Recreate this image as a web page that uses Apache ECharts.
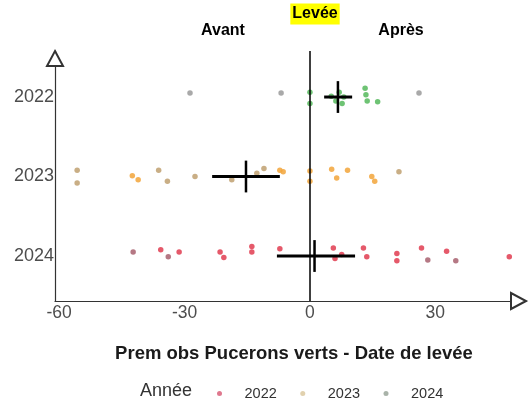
<!DOCTYPE html>
<html>
<head>
<meta charset="utf-8">
<script src="https://cdn.jsdelivr.net/npm/echarts@6/dist/echarts.min.js"></script>
<style>
html,body{margin:0;padding:0;background:#fff;}
#chart{width:530px;height:404px;}
</style>
</head>
<body>
<div id="chart"></div>
<script>
// ---- Data ----
// Row positions on the y axis (value = row index from bottom)
const rowLabels = ['2024', '2023', '2022'];      // y = 0, 1, 2
const legendNames = ['2022', '2023', '2024'];

// Legend "2022" (red) points: drawn in the bottom row (y = 0)
const redX      = [-35.7, -31.3, -21.5, -20.6, -13.9, -13.9, -7.2, 5.6, 6.0, 7.6, 12.8, 13.6, 20.8, 20.8, 26.7, 32.7, 47.7];
const redJ      = [0.08, 0.05, 0.05, -0.02, 0.12, 0.05, 0.09, 0.10, -0.03, 0.02, 0.10, -0.01, 0.03, -0.06, 0.10, 0.06, -0.01];
const redMutedX = [-42.3, -33.9, 28.2, 34.9];
const redMutedJ = [0.05, -0.01, -0.05, -0.06];

// Legend "2023" (orange) points: middle row (y = 1)
const orangeX      = [-42.5, -41.1, -7.2, -6.4, 0.0, 0.0, 5.2, 6.4, 9.0, 14.8, 15.5];
const orangeJ      = [0.01, -0.04, 0.08, 0.06, 0.07, -0.06, 0.09, -0.02, 0.08, 0.0, -0.06];
const orangeMutedX = [-55.7, -55.7, -36.2, -34.1, -27.5, -18.7, -12.7, -11.0, 21.3];
const orangeMutedJ = [0.08, -0.08, 0.08, -0.06, 0.0, -0.04, 0.04, 0.10, 0.06];

// Legend "2024" (green) points: top row (y = 2)
const greenX      = [0.0, 0.0, 5.1, 6.2, 7.0, 7.7, 8.1, 13.2, 13.4, 13.7, 16.2];
const greenJ      = [0.06, -0.08, 0.01, -0.05, 0.06, -0.08, 0.0, 0.11, 0.03, -0.05, -0.06];
const greenMutedX = [-28.7, -6.9, 26.1];
const greenMutedJ = [0.05, 0.05, 0.05];

// Mean crosses: mean, low, high, row
const meanVals = [1.1, -15.3, 6.7];
const meanLow  = [-7.9, -23.4, 3.4];
const meanHigh = [10.8, -7.2, 10.1];
const meanRows = [0, 1, 2];

const xTicks = [-60, -30, 0, 30];

// ---- Build ----
const FONT = '"Liberation Sans", Arial, sans-serif';
function pts(xs, js, row) { return xs.map((x, i) => [x, row + js[i]]); }
const crossData = meanVals.map((m, i) => [m, meanLow[i], meanHigh[i], meanRows[i]]);

const chart = echarts.init(document.getElementById('chart'), null, {renderer: 'canvas'});
const SYM = 5.5;
function scatter(name, data, color) {
  return {
    name: name, type: 'scatter', data: data, symbol: 'circle', symbolSize: SYM,
    itemStyle: {color: color, opacity: 0.85}, z: 3, silent: true
  };
}

const option = {
  animation: false,
  backgroundColor: '#ffffff',
  grid: {left: 55, right: 4, top: 51, bottom: 103, containLabel: false},
  xAxis: {
    type: 'value', min: -61, max: 51.7,
    splitLine: {show: false},
    axisTick: {show: false},
    axisLine: {onZero: false, lineStyle: {color: '#333', width: 1.2},
      symbol: ['none', 'emptyTriangle'], symbolSize: [16, 15], symbolOffset: [0, -7.5]},
    axisLabel: {customValues: xTicks, color: '#4d4d4d', fontSize: 17.5, fontFamily: FONT, margin: 3}
  },
  yAxis: {
    type: 'value', min: -0.566, max: 2.579,
    splitLine: {show: false},
    axisTick: {show: false},
    axisLine: {show: true, onZero: false, lineStyle: {color: '#333', width: 1.2},
      symbol: ['none', 'emptyTriangle'], symbolSize: [16, 15], symbolOffset: [0, -7.5]},
    axisLabel: {customValues: [0, 1, 2], formatter: v => rowLabels[Math.round(v)],
      color: '#4d4d4d', fontSize: 18, fontFamily: FONT, margin: 1}
  },
  legend: {
    data: [
      {name: legendNames[0], itemStyle: {color: '#d9607a'}},
      {name: legendNames[1], itemStyle: {color: '#dcc9a0'}},
      {name: legendNames[2], itemStyle: {color: '#9aa69a'}}
    ],
    left: 212, top: 381, icon: 'circle', itemWidth: 40, itemHeight: 5, itemGap: 23.5,
    textStyle: {color: '#333', fontSize: 14.5, fontFamily: FONT},
    selectedMode: false
  },
  graphic: [
    {type: 'text', x: 140, y: 391, style: {text: 'Année', fontSize: 18, fontFamily: FONT, fill: '#333',
      verticalAlign: 'middle'}},
    {type: 'text', x: 294, y: 354, style: {text: 'Prem obs Pucerons verts - Date de levée', fontSize: 18.5, fontWeight: 'bold',
      fontFamily: FONT, fill: '#1a1a1a', align: 'center', verticalAlign: 'middle'}},
    {type: 'text', x: 223, y: 31, style: {text: 'Avant', fontSize: 16, fontWeight: 'bold', fontFamily: FONT,
      fill: '#000', align: 'center', verticalAlign: 'middle'}},
    {type: 'text', x: 401, y: 31, style: {text: 'Après', fontSize: 16, fontWeight: 'bold', fontFamily: FONT,
      fill: '#000', align: 'center', verticalAlign: 'middle'}},
    {type: 'text', x: 315, y: 14, style: {text: 'Levée', fontSize: 16, fontWeight: 'bold', fontFamily: FONT,
      fill: '#000', align: 'center', verticalAlign: 'middle', backgroundColor: '#ffff00', padding: [3, 2, 2, 2]}}
  ],
  series: [
    scatter(legendNames[0], pts(redX, redJ, 0), '#e03c50'),
    scatter(legendNames[1], pts(orangeX, orangeJ, 1), '#f2a53a'),
    scatter(legendNames[2], pts(greenX, greenJ, 2), '#55b85c'),
    scatter('m0', pts(redMutedX, redMutedJ, 0), '#a8606e'),
    scatter('m1', pts(orangeMutedX, orangeMutedJ, 1), '#c0a070'),
    scatter('m2', pts(greenMutedX, greenMutedJ, 2), '#9a9a9a'),
    {
      type: 'custom', name: 'cross', silent: true, z: 5,
      data: crossData,
      renderItem: function (params, api) {
        const m = api.value(0), lo = api.value(1), hi = api.value(2), r = api.value(3);
        const a = api.coord([lo, r]), b = api.coord([hi, r]);
        const c = api.coord([m, r + 0.2]), d = api.coord([m, r - 0.2]);
        return {type: 'group', children: [
          {type: 'line', shape: {x1: a[0], y1: a[1], x2: b[0], y2: b[1]}, style: {stroke: '#000', lineWidth: 3}},
          {type: 'line', shape: {x1: c[0], y1: c[1], x2: d[0], y2: d[1]}, style: {stroke: '#000', lineWidth: 2.5}}
        ]};
      }
    },
    {
      type: 'line', name: 'zero', data: [], silent: true,
      markLine: {symbol: 'none', silent: true, label: {show: false},
        lineStyle: {color: '#000', width: 1.5, type: 'solid'},
        data: [{xAxis: 0}]}
    }
  ]
};
chart.setOption(option);
</script>
</body>
</html>
